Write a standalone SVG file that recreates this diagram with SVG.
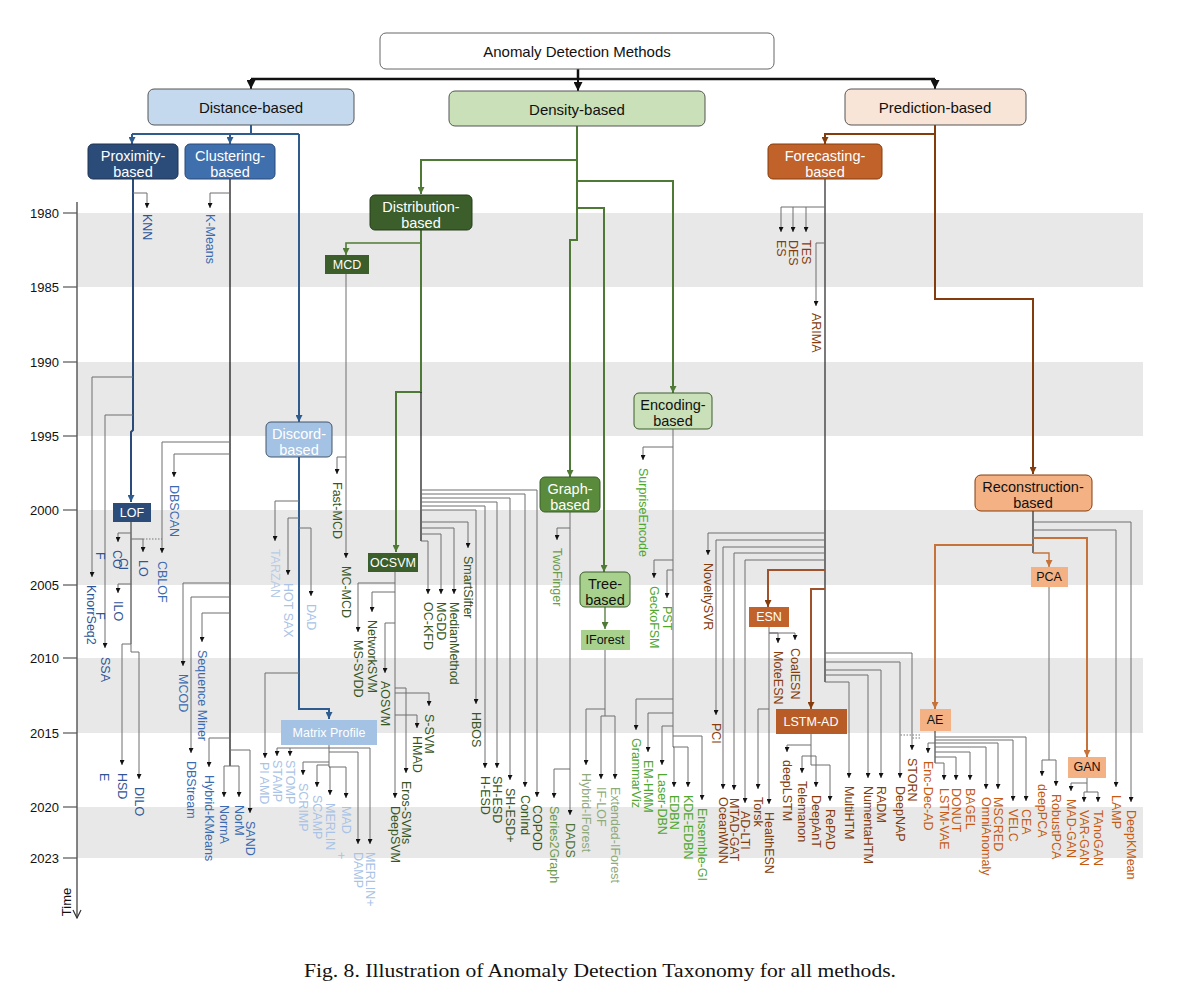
<svg xmlns="http://www.w3.org/2000/svg" width="1200" height="1002" viewBox="0 0 1200 1002">
<style>
text{font-family:"Liberation Sans",Arial,sans-serif}
text.cap{font-family:"Liberation Serif","Times New Roman",serif}
.band{fill:#e8e8e8}
.yr{font-size:13px;fill:#111;text-anchor:end;dominant-baseline:central}
.tick{stroke:#555;stroke-width:1.2}
.lb{font-size:15px;text-anchor:middle;dominant-baseline:central;fill:#111}
.lw{font-size:14.5px;text-anchor:middle;dominant-baseline:central;fill:#fff}
.lk{font-size:14.5px;text-anchor:middle;dominant-baseline:central;fill:#111}
.ls{font-size:12.5px;text-anchor:middle;dominant-baseline:central}
.m{font-size:12.5px;dominant-baseline:central}
.px{fill:#2f5597}.cl{fill:#3a6bb0}.dc{fill:#a9c3e6}.dd{fill:#375623}.gr{fill:#6b9b4a}.tr{fill:#8faa7a}.en{fill:#4ea72e}.fc{fill:#843c0c}.rc{fill:#c55a11}
.g{fill:none;stroke:#6e6e6e;stroke-width:1;marker-end:url(#ah)}
.gl{fill:none;stroke:#6e6e6e;stroke-width:1}
.dk{fill:none;stroke:#333;stroke-width:1.3}
.cb{fill:none;stroke:#2e5c8f;stroke-width:2}
.cg{fill:none;stroke:#4f7a35;stroke-width:2}
.cr{fill:none;stroke:#843c0c;stroke-width:2}
.co{fill:none;stroke:#c5733a;stroke-width:2}
.ck{fill:none;stroke:#111;stroke-width:2.5}
</style>
<defs>
<marker id="ah" viewBox="0 0 6 6" refX="6" refY="3" markerWidth="5" markerHeight="5" orient="auto" markerUnits="userSpaceOnUse"><path d="M0,0L6,3L0,6z" fill="#111"/></marker>
<marker id="ahB" viewBox="0 0 6 6" refX="6" refY="3" markerWidth="7" markerHeight="7" orient="auto" markerUnits="userSpaceOnUse"><path d="M0,0L6,3L0,6z" fill="#2e5c8f"/></marker>
<marker id="ahG" viewBox="0 0 6 6" refX="6" refY="3" markerWidth="7" markerHeight="7" orient="auto" markerUnits="userSpaceOnUse"><path d="M0,0L6,3L0,6z" fill="#4f7a35"/></marker>
<marker id="ahR" viewBox="0 0 6 6" refX="6" refY="3" markerWidth="7" markerHeight="7" orient="auto" markerUnits="userSpaceOnUse"><path d="M0,0L6,3L0,6z" fill="#843c0c"/></marker>
<marker id="ahO" viewBox="0 0 6 6" refX="6" refY="3" markerWidth="7" markerHeight="7" orient="auto" markerUnits="userSpaceOnUse"><path d="M0,0L6,3L0,6z" fill="#c5733a"/></marker>
<marker id="ahK" viewBox="0 0 6 6" refX="6" refY="3" markerWidth="9" markerHeight="9" orient="auto" markerUnits="userSpaceOnUse"><path d="M0,0L6,3L0,6z" fill="#111"/></marker>
<marker id="ahT" viewBox="0 0 10 10" refX="9" refY="5" markerWidth="10" markerHeight="10" orient="auto" markerUnits="userSpaceOnUse"><path d="M1,1L9,5L1,9" fill="none" stroke="#333" stroke-width="1.2"/></marker>
</defs>
<rect width="1200" height="1002" fill="#fff"/>

<g id="timeline">
<rect class="band" x="77" y="213" width="1066" height="74"/>
<rect class="band" x="77" y="362" width="1066" height="74"/>
<rect class="band" x="77" y="510" width="1066" height="75"/>
<rect class="band" x="77" y="658" width="1066" height="75"/>
<rect class="band" x="77" y="807" width="1066" height="51"/>
<line x1="77" y1="202" x2="77" y2="918" stroke="#444" stroke-width="1.3" marker-end="url(#ahT)"/>
<line class="tick" x1="63" y1="213" x2="77" y2="213"/><text class="yr" x="59" y="213">1980</text>
<line class="tick" x1="63" y1="287" x2="77" y2="287"/><text class="yr" x="59" y="287">1985</text>
<line class="tick" x1="63" y1="362" x2="77" y2="362"/><text class="yr" x="59" y="362">1990</text>
<line class="tick" x1="63" y1="436" x2="77" y2="436"/><text class="yr" x="59" y="436">1995</text>
<line class="tick" x1="63" y1="510" x2="77" y2="510"/><text class="yr" x="59" y="510">2000</text>
<line class="tick" x1="63" y1="585" x2="77" y2="585"/><text class="yr" x="59" y="585">2005</text>
<line class="tick" x1="63" y1="658" x2="77" y2="658"/><text class="yr" x="59" y="658">2010</text>
<line class="tick" x1="63" y1="733" x2="77" y2="733"/><text class="yr" x="59" y="733">2015</text>
<line class="tick" x1="63" y1="807" x2="77" y2="807"/><text class="yr" x="59" y="807">2020</text>
<line class="tick" x1="63" y1="858" x2="77" y2="858"/><text class="yr" x="59" y="858">2023</text>
<text x="0" y="0" transform="translate(66,902) rotate(-90)" font-size="13" text-anchor="middle" dominant-baseline="central" fill="#111">Time</text>
</g>

<g id="connectors">
<line class="ck" x1="578" y1="69" x2="578" y2="79"/>
<line class="ck" x1="251" y1="79" x2="935" y2="79"/>
<polyline class="ck" style="stroke-width:2" points="251,79 251,89" marker-end="url(#ahK)"/>
<polyline class="ck" style="stroke-width:2" points="578,79 578,91" marker-end="url(#ahK)"/>
<polyline class="ck" style="stroke-width:2" points="935,79 935,89" marker-end="url(#ahK)"/>
<polyline class="cb" points="251,125 251,134"/>
<line class="cb" x1="132" y1="134" x2="299" y2="134"/>
<polyline class="cb" points="132,134 132,144" marker-end="url(#ahB)"/>
<polyline class="cb" points="230,134 230,144" marker-end="url(#ahB)"/>
<polyline class="cb" points="299,134 299,422" marker-end="url(#ahB)"/>
<polyline class="cb" style="stroke:#2b4b78" points="133,179 133,430 131,432 131,502" marker-end="url(#ahB)"/>
<polyline class="g" points="133,193 147,193 147,208"/>
<polyline class="g" points="133,377 92,377 92,577"/>
<polyline class="g" points="133,415 105,415 105,648"/>
<line class="gl" style="stroke:#222" x1="131" y1="522" x2="131" y2="644"/>
<polyline class="g" points="131,533 118,533 118,542"/>
<polyline class="g" points="131,539 143,539 143,552"/>
<line x1="143" y1="539" x2="162" y2="539" stroke="#777" stroke-width="1" stroke-dasharray="1.5,1.5"/>
<polyline class="g" points="131,584 118,584 118,593"/>
<polyline class="g" points="131,644 122,644 122,765"/>
<polyline class="g" points="131,644 131,652 139,652 139,779"/>
<line class="dk" style="stroke:#1a1a1a" x1="230" y1="179" x2="230" y2="766"/>
<polyline class="g" points="230,193 210,193 210,208"/>
<polyline class="g" points="230,442 162,442 162,553"/>
<polyline class="g" points="230,454 174,454 174,477"/>
<polyline class="g" points="230,583 183,583 183,666"/>
<polyline class="g" points="230,597 191,597 191,753"/>
<polyline class="g" points="230,613 202,613 202,642"/>
<polyline class="g" points="230,738 209,738 209,767"/>
<polyline class="g" points="230,766 224,766 224,797"/>
<polyline class="g" points="230,766 239,766 239,797"/>
<polyline class="g" points="230,750 250,750 250,813"/>
<polyline class="cb" points="299,457 299,709 329,709 329,719" marker-end="url(#ahB)"/>
<polyline class="g" points="299,501 275,501 275,541"/>
<polyline class="g" points="299,518 288,518 288,575"/>
<polyline class="g" points="299,528 311,528 311,596"/>
<polyline class="g" points="299,673 265,673 265,758"/>
<line class="gl" x1="329" y1="745" x2="329" y2="767"/>
<line class="gl" x1="277" y1="748" x2="370" y2="748"/>
<polyline class="g" points="277,748 277,756"/>
<polyline class="g" points="290,748 290,756"/>
<polyline class="g" points="370,748 370,844"/>
<polyline class="g" points="329,752 358,752 358,844"/>
<polyline class="g" points="329,762 303,762 303,775"/>
<polyline class="g" points="329,765 317,765 317,787"/>
<polyline class="g" points="329,767 330,767 330,795"/>
<polyline class="g" points="329,767 346,767 346,798"/>
<polyline class="cg" points="577,126 577,240 570,240 570,477" marker-end="url(#ahG)"/>
<polyline class="cg" points="577,160 421,160 421,194" marker-end="url(#ahG)"/>
<polyline class="cg" points="577,181 673,181 673,393" marker-end="url(#ahG)"/>
<polyline class="cg" points="577,208 604,208 604,572" marker-end="url(#ahG)"/>
<polyline class="cg" style="stroke-width:1.6" points="421,243 346,243 346,255" marker-end="url(#ahG)"/>
<polyline class="cg" points="421,230 421,392 396,392 396,552" marker-end="url(#ahG)"/>
<line class="dk" style="stroke:#222" x1="421" y1="392" x2="421" y2="541"/>
<polyline class="g" points="346,274 346,558"/>
<polyline class="g" points="346,457 337,457 337,474"/>
<polyline class="g" points="395,572 395,798"/>
<polyline class="g" points="395,583 358,583 358,632"/>
<polyline class="g" points="395,592 372,592 372,612"/>
<polyline class="g" points="395,623 385,623 385,673"/>
<polyline class="g" points="395,688 406,688 406,773"/>
<polyline class="g" points="395,693 429,693 429,706"/>
<polyline class="g" points="395,715 417,715 417,728"/>
<polyline class="g" points="421,490 537,490 537,797"/>
<polyline class="g" points="421,494 525,494 525,787"/>
<polyline class="g" points="421,498 510,498 510,780"/>
<polyline class="g" points="421,502 497,502 497,768"/>
<polyline class="g" points="421,506 485,506 485,768"/>
<polyline class="g" points="421,510 476,510 476,704"/>
<polyline class="g" points="421,522 468,522 468,548"/>
<polyline class="g" points="421,528 454,528 454,594"/>
<polyline class="g" points="421,534 441,534 441,594"/>
<polyline class="g" points="421,541 428,541 428,594"/>
<polyline class="g" points="570,512 570,815"/>
<polyline class="g" points="570,528 557,528 557,540"/>
<polyline class="g" points="570,769 554,769 554,798"/>
<polyline class="cg" style="stroke-width:1.3" points="605,607 605,629" marker-end="url(#ahG)"/>
<line class="gl" x1="605" y1="650" x2="605" y2="716"/>
<polyline class="g" points="605,709 586,709 586,765"/>
<polyline class="g" points="605,716 601,716 601,779"/>
<polyline class="g" points="605,716 615,716 615,779"/>
<line class="gl" x1="673" y1="429" x2="673" y2="747"/>
<polyline class="g" points="673,447 643,447 643,460"/>
<polyline class="g" points="673,560 654,560 654,578"/>
<polyline class="g" points="673,570 667,570 667,598"/>
<polyline class="g" points="673,699 636,699 636,730"/>
<polyline class="g" points="673,713 648,713 648,752"/>
<polyline class="g" points="673,726 662,726 662,765"/>
<polyline class="g" points="673,736 702,736 702,800"/>
<polyline class="g" points="673,747 688,747 688,787"/>
<polyline class="g" points="673,747 674,747 674,787"/>
<polyline class="cr" points="935,125 935,299 1033,299 1033,474" marker-end="url(#ahR)"/>
<polyline class="cr" points="935,134 825,134 825,144" marker-end="url(#ahR)"/>
<line class="dk" x1="825" y1="179" x2="825" y2="682"/>
<polyline class="g" points="825,207 781,207 781,232"/>
<polyline class="g" points="793,207 793,232"/>
<polyline class="g" points="806,207 806,232"/>
<polyline class="g" points="825,243 816,243 816,306"/>
<polyline class="g" points="825,533 708,533 708,555"/>
<polyline class="g" points="825,540 716,540 716,715"/>
<polyline class="g" points="825,547 723,547 723,789"/>
<polyline class="g" points="825,553 734,553 734,790"/>
<polyline class="g" points="825,560 745,560 745,803"/>
<polyline class="cr" style="stroke:#a0522d" points="825,570 768,570 768,607" marker-end="url(#ahR)"/>
<polyline class="g" points="769,627 769,804"/>
<polyline class="g" points="769,633 778,633 778,643"/>
<polyline class="g" points="769,633 795,633 795,640"/>
<polyline class="g" points="769,709 758,709 758,789"/>
<polyline class="cr" style="stroke:#a0522d" points="825,589 811,589 811,709" marker-end="url(#ahR)"/>
<line class="gl" x1="811" y1="734" x2="811" y2="765"/>
<polyline class="g" points="811,745 787,745 787,752"/>
<polyline class="g" points="811,756 802,756 802,773"/>
<polyline class="g" points="811,756 816,756 816,787"/>
<polyline class="g" points="811,765 830,765 830,801"/>
<polyline class="g" points="825,682 849,682 849,778"/>
<polyline class="g" points="825,675 868,675 868,778"/>
<polyline class="g" points="825,670 881,670 881,778"/>
<polyline class="g" points="825,662 900,662 900,778"/>
<polyline class="g" points="825,653 912,653 912,750"/>
<line x1="920" y1="735" x2="900" y2="735" stroke="#777" stroke-dasharray="1.5,1.5"/>
<line x1="920" y1="738" x2="912" y2="738" stroke="#777" stroke-dasharray="1.5,1.5"/>
<line class="dk" x1="1033" y1="511" x2="1033" y2="553"/>
<polyline class="g" points="1033,522 1131,522 1131,802"/>
<polyline class="g" points="1033,530 1116,530 1116,787"/>
<polyline class="co" points="1033,538 1087,538 1087,757" marker-end="url(#ahO)"/>
<polyline class="co" points="1033,545 935,545 935,709" marker-end="url(#ahO)"/>
<polyline class="co" style="stroke-width:1.4" points="1033,553 1049,553 1049,567" marker-end="url(#ahO)"/>
<line class="gl" x1="1049" y1="587" x2="1049" y2="760"/>
<polyline class="g" points="1049,760 1042,760 1042,776"/>
<polyline class="g" points="1049,760 1056,760 1056,786"/>
<line class="gl" x1="1087" y1="778" x2="1087" y2="792"/>
<polyline class="g" points="1087,783 1071,783 1071,791"/>
<polyline class="g" points="1087,792 1084,792 1084,802"/>
<polyline class="g" points="1087,792 1098,792 1098,802"/>
<line class="gl" style="stroke:#222" x1="935" y1="731" x2="935" y2="763"/>
<polyline class="g" points="935,743 928,743 928,753"/>
<polyline class="g" points="935,763 944,763 944,780"/>
<polyline class="g" points="935,757 956,757 956,780"/>
<polyline class="g" points="935,752 970,752 970,780"/>
<polyline class="g" points="935,747 986,747 986,789"/>
<polyline class="g" points="935,743 998,743 998,789"/>
<polyline class="g" points="935,740 1013,740 1013,801"/>
<polyline class="g" points="935,737 1026,737 1026,801"/>
</g>

<g id="root"><rect x="380" y="33" width="394" height="36" rx="6" fill="#fff" stroke="#666"/><text class="lb" x="577" y="51">Anomaly Detection Methods</text></g>
<g id="distance-based"><rect x="148" y="89" width="206" height="36" rx="6" fill="#c5d9ee" stroke="#555"/><text class="lb" x="251" y="107">Distance-based</text></g>
<g id="density-based"><rect x="449" y="91" width="256" height="35" rx="6" fill="#c9e0b8" stroke="#555"/><text class="lb" x="577" y="109">Density-based</text></g>
<g id="prediction-based"><rect x="845" y="89" width="181" height="36" rx="6" fill="#f8e5d8" stroke="#555"/><text class="lb" x="935" y="107">Prediction-based</text></g>

<g id="proximity-based"><rect x="88" y="144" width="90" height="35" rx="5" fill="#2b4b78" stroke="#1f3350"/><text class="lw" x="133" y="156">Proximity-</text><text class="lw" x="133" y="172">based</text></g>
<g id="clustering-based"><rect x="185" y="144" width="90" height="35" rx="5" fill="#3f6fad" stroke="#2b4b78"/><text class="lw" x="230" y="156">Clustering-</text><text class="lw" x="230" y="172">based</text></g>
<g id="discord-based"><rect x="266" y="422" width="66" height="35" rx="5" fill="#a4c2e4" stroke="#44546a"/><text class="lw" x="299" y="434">Discord-</text><text class="lw" x="299" y="450">based</text></g>
<g id="lof"><rect x="113" y="503" width="38" height="19" fill="#2b4b78"/><text class="ls" x="132" y="513" fill="#fff">LOF</text></g>
<g id="matrix-profile"><rect x="281" y="720" width="96" height="25" fill="#a4c2e4"/><text class="ls" x="329" y="733" fill="#fff" font-size="13.5">Matrix Profile</text></g>

<g id="distribution-based"><rect x="370" y="195" width="102" height="35" rx="5" fill="#3b5e2b" stroke="#263d1b"/><text class="lw" x="421" y="207">Distribution-</text><text class="lw" x="421" y="223">based</text></g>
<g id="mcd"><rect x="325" y="255" width="44" height="19" fill="#3b5e2b"/><text class="ls" x="347" y="265" fill="#fff">MCD</text></g>
<g id="ocsvm"><rect x="368" y="553" width="50" height="19" fill="#3b5e2b"/><text class="ls" x="393" y="563" fill="#fff">OCSVM</text></g>
<g id="graph-based"><rect x="540" y="477" width="60" height="35" rx="5" fill="#5a8a3c" stroke="#3b5e2b"/><text class="lw" x="570" y="489">Graph-</text><text class="lw" x="570" y="505">based</text></g>
<g id="tree-based"><rect x="580" y="572" width="50" height="35" rx="5" fill="#a9d18e" stroke="#3b5e2b"/><text class="lk" x="605" y="584">Tree-</text><text class="lk" x="605" y="600">based</text></g>
<g id="iforest"><rect x="581" y="630" width="49" height="20" fill="#a9d18e"/><text class="ls" x="605" y="640" fill="#111">IForest</text></g>
<g id="encoding-based"><rect x="634" y="393" width="78" height="36" rx="5" fill="#c9e0b8" stroke="#3b5e2b"/><text class="lk" x="673" y="405">Encoding-</text><text class="lk" x="673" y="421">based</text></g>

<g id="forecasting-based"><rect x="768" y="144" width="114" height="35" rx="5" fill="#c0622a" stroke="#843c0c"/><text class="lw" x="825" y="156">Forecasting-</text><text class="lw" x="825" y="172">based</text></g>
<g id="esn"><rect x="749" y="607" width="40" height="20" fill="#c0622a"/><text class="ls" x="769" y="617" fill="#fff">ESN</text></g>
<g id="lstm-ad"><rect x="776" y="709" width="71" height="25" fill="#b85c27"/><text class="ls" x="811" y="722" fill="#fff" font-size="13.5">LSTM-AD</text></g>
<g id="reconstruction-based"><rect x="975" y="475" width="117" height="36" rx="6" fill="#f4b183" stroke="#843c0c"/><text class="lk" x="1033" y="487">Reconstruction-</text><text class="lk" x="1033" y="503">based</text></g>
<g id="pca"><rect x="1031" y="567" width="37" height="20" fill="#f4b183"/><text class="ls" x="1049" y="577" fill="#111">PCA</text></g>
<g id="ae"><rect x="920" y="709" width="31" height="22" fill="#f4b183"/><text class="ls" x="935" y="720" fill="#111" font-size="13.5">AE</text></g>
<g id="gan"><rect x="1068" y="757" width="38" height="21" fill="#f4b183"/><text class="ls" x="1087" y="767" fill="#111">GAN</text></g>

<g id="methods">
<g id="knn"><text class="m px" transform="translate(147,214) rotate(90)">KNN</text></g>
<g id="knorrseq2"><text class="m px" transform="translate(91,585) rotate(90)">KnorrSeq2</text><text class="m px" transform="translate(100,552) rotate(90)">F</text><text class="m px" transform="translate(100,612) rotate(90)">F</text></g>
<g id="ssa"><text class="m px" transform="translate(105,657) rotate(90)">SSA</text></g>
<g id="co"><text class="m px" transform="translate(117,550) rotate(90)">CO</text><text class="m px" transform="translate(123,558) rotate(90)">Cl</text></g>
<g id="lo"><text class="m px" transform="translate(143,560) rotate(90)">LO</text></g>
<g id="ilo"><text class="m px" transform="translate(118,601) rotate(90)">ILO</text></g>
<g id="hsd"><text class="m px" transform="translate(122,773) rotate(90)">HSD</text><text class="m px" transform="translate(104,773) rotate(90)">E</text></g>
<g id="dilo"><text class="m px" transform="translate(139,787) rotate(90)">DILO</text></g>
<g id="k-means"><text class="m cl" transform="translate(210,214) rotate(90)">K-Means</text></g>
<g id="cblof"><text class="m cl" transform="translate(162,561) rotate(90)">CBLOF</text></g>
<g id="dbscan"><text class="m cl" transform="translate(174,485) rotate(90)">DBSCAN</text></g>
<g id="mcod"><text class="m cl" transform="translate(183,674) rotate(90)">MCOD</text></g>
<g id="dbstream"><text class="m cl" transform="translate(191,761) rotate(90)">DBStream</text></g>
<g id="sequence-miner"><text class="m cl" transform="translate(202,650) rotate(90)">Sequence Miner</text></g>
<g id="hybrid-kmeans"><text class="m cl" transform="translate(209,775) rotate(90)">Hybrid-KMeans</text></g>
<g id="norma"><text class="m cl" transform="translate(224,805) rotate(90)">NormA</text></g>
<g id="norm"><text class="m cl" transform="translate(239,805) rotate(90)">NorM</text></g>
<g id="sand"><text class="m cl" transform="translate(250,821) rotate(90)">SAND</text></g>
<g id="tarzan"><text class="m dc" style="fill:#b8cce6" transform="translate(275,549) rotate(90)">TARZAN</text></g>
<g id="hot-sax"><text class="m dc" transform="translate(288,583) rotate(90)">HOT SAX</text></g>
<g id="dad"><text class="m dc" transform="translate(311,604) rotate(90)">DAD</text></g>
<g id="pamd"><text class="m dc" transform="translate(264,762) rotate(90)">PI AMD</text></g>
<g id="stamp"><text class="m dc" transform="translate(277,760) rotate(90)">STAMP</text></g>
<g id="stomp"><text class="m dc" transform="translate(290,760) rotate(90)">STOMP</text></g>
<g id="scrimp"><text class="m dc" transform="translate(303,783) rotate(90)">SCRIMP</text></g>
<g id="scamp"><text class="m dc" transform="translate(317,795) rotate(90)">SCAMP</text></g>
<g id="merlin"><text class="m dc" transform="translate(330,803) rotate(90)">MERLIN</text><text class="m dc" transform="translate(341,852) rotate(90)">+</text></g>
<g id="mad"><text class="m dc" transform="translate(346,806) rotate(90)">MAD</text></g>
<g id="damp"><text class="m dc" transform="translate(358,852) rotate(90)">DAMP</text></g>
<g id="merlin-plus"><text class="m dc" transform="translate(370,852) rotate(90)">MERLIN+</text></g>

<g id="fast-mcd"><text class="m dd" transform="translate(337,482) rotate(90)">Fast-MCD</text></g>
<g id="mc-mcd"><text class="m dd" transform="translate(346,566) rotate(90)">MC-MCD</text></g>
<g id="ms-svdd"><text class="m dd" transform="translate(358,640) rotate(90)">MS-SVDD</text></g>
<g id="networksvm"><text class="m dd" transform="translate(372,620) rotate(90)">NetworkSVM</text></g>
<g id="aosvm"><text class="m dd" transform="translate(385,681) rotate(90)">AOSVM</text></g>
<g id="deepsvm"><text class="m dd" transform="translate(395,806) rotate(90)">DeepSVM</text></g>
<g id="eros-svms"><text class="m dd" transform="translate(406,781) rotate(90)">Eros-SVMs</text></g>
<g id="hmad"><text class="m dd" transform="translate(417,736) rotate(90)">HMAD</text></g>
<g id="s-svm"><text class="m dd" transform="translate(429,714) rotate(90)">S-SVM</text></g>
<g id="oc-kfd"><text class="m dd" transform="translate(428,602) rotate(90)">OC-KFD</text></g>
<g id="mgdd"><text class="m dd" transform="translate(441,602) rotate(90)">MGDD</text></g>
<g id="medianmethod"><text class="m dd" transform="translate(454,602) rotate(90)">MedianMethod</text></g>
<g id="smartsifter"><text class="m dd" transform="translate(468,556) rotate(90)">SmartSifter</text></g>
<g id="hbos"><text class="m dd" transform="translate(476,712) rotate(90)">HBOS</text></g>
<g id="h-esd"><text class="m dd" transform="translate(485,776) rotate(90)">H-ESD</text></g>
<g id="sh-esd"><text class="m dd" transform="translate(497,776) rotate(90)">SH-ESD</text></g>
<g id="sh-esd-plus"><text class="m dd" transform="translate(510,788) rotate(90)">SH-ESD+</text></g>
<g id="conind"><text class="m dd" transform="translate(525,795) rotate(90)">ConInd</text></g>
<g id="copod"><text class="m dd" transform="translate(537,805) rotate(90)">COPOD</text></g>
<g id="twofinger"><text class="m gr" transform="translate(557,548) rotate(90)">TwoFinger</text></g>
<g id="series2graph"><text class="m gr" transform="translate(554,806) rotate(90)">Series2Graph</text></g>
<g id="dads"><text class="m gr" style="fill:#4d7335" transform="translate(570,823) rotate(90)">DADS</text></g>
<g id="hybrid-iforest"><text class="m tr" transform="translate(586,773) rotate(90)">Hybrid-IForest</text></g>
<g id="if-lof"><text class="m tr" transform="translate(601,787) rotate(90)">IF-LOF</text></g>
<g id="extended-iforest"><text class="m tr" transform="translate(615,787) rotate(90)">Extended-IForest</text></g>
<g id="surpriseencode"><text class="m en" transform="translate(643,468) rotate(90)">SurpriseEncode</text></g>
<g id="geckofsm"><text class="m en" transform="translate(654,586) rotate(90)">GeckoFSM</text></g>
<g id="pst"><text class="m en" transform="translate(667,606) rotate(90)">PST</text></g>
<g id="grammarviz"><text class="m en" transform="translate(636,738) rotate(90)">GrammarViz</text></g>
<g id="em-hmm"><text class="m en" transform="translate(648,760) rotate(90)">EM-HMM</text></g>
<g id="laser-dbn"><text class="m en" transform="translate(662,773) rotate(90)">Laser-DBN</text></g>
<g id="edbn"><text class="m en" transform="translate(674,795) rotate(90)">EDBN</text></g>
<g id="kde-edbn"><text class="m en" transform="translate(688,795) rotate(90)">KDE-EDBN</text></g>
<g id="ensemble-gi"><text class="m en" transform="translate(702,808) rotate(90)">Ensemble-GI</text></g>

<g id="es"><text class="m fc" transform="translate(781,240) rotate(90)">ES</text></g>
<g id="des"><text class="m fc" transform="translate(793,240) rotate(90)">DES</text></g>
<g id="tes"><text class="m fc" transform="translate(806,240) rotate(90)">TES</text></g>
<g id="arima"><text class="m fc" transform="translate(816,313) rotate(90)">ARIMA</text></g>
<g id="noveltysvr"><text class="m fc" transform="translate(708,563) rotate(90)">NoveltySVR</text></g>
<g id="pci"><text class="m fc" transform="translate(716,723) rotate(90)">PCI</text></g>
<g id="oceanwnn"><text class="m fc" transform="translate(723,797) rotate(90)">OceanWNN</text></g>
<g id="mtad-gat"><text class="m fc" transform="translate(734,798) rotate(90)">MTAD-GAT</text></g>
<g id="ad-lti"><text class="m fc" transform="translate(745,811) rotate(90)">AD-LTI</text></g>
<g id="torsk"><text class="m fc" transform="translate(758,797) rotate(90)">Torsk</text></g>
<g id="healthesn"><text class="m fc" transform="translate(769,812) rotate(90)">HealthESN</text></g>
<g id="moteesn"><text class="m fc" transform="translate(778,651) rotate(90)">MoteESN</text></g>
<g id="coalesn"><text class="m fc" transform="translate(795,648) rotate(90)">CoalESN</text></g>
<g id="deeplstm"><text class="m fc" transform="translate(787,760) rotate(90)">deepLSTM</text></g>
<g id="telemanon"><text class="m fc" transform="translate(802,781) rotate(90)">Telemanon</text></g>
<g id="deepant"><text class="m fc" transform="translate(816,795) rotate(90)">DeepAnT</text></g>
<g id="repad"><text class="m fc" transform="translate(830,809) rotate(90)">RePAD</text></g>
<g id="multihtm"><text class="m fc" transform="translate(849,786) rotate(90)">MultiHTM</text></g>
<g id="numentahtm"><text class="m fc" transform="translate(868,786) rotate(90)">NumentaHTM</text></g>
<g id="radm"><text class="m fc" transform="translate(881,786) rotate(90)">RADM</text></g>
<g id="deepnap"><text class="m fc" transform="translate(900,786) rotate(90)">DeepNAP</text></g>
<g id="storn"><text class="m fc" transform="translate(912,758) rotate(90)">STORN</text></g>
<g id="enc-dec-ad"><text class="m rc" transform="translate(928,761) rotate(90)">Enc-Dec-AD</text></g>
<g id="lstm-vae"><text class="m rc" transform="translate(944,788) rotate(90)">LSTM-VAE</text></g>
<g id="donut"><text class="m rc" transform="translate(956,788) rotate(90)">DONUT</text></g>
<g id="bagel"><text class="m rc" transform="translate(970,788) rotate(90)">BAGEL</text></g>
<g id="omnianomaly"><text class="m rc" transform="translate(986,797) rotate(90)">OmniAnomaly</text></g>
<g id="mscred"><text class="m rc" transform="translate(998,797) rotate(90)">MSCRED</text></g>
<g id="velc"><text class="m rc" transform="translate(1013,809) rotate(90)">VELC</text></g>
<g id="cea"><text class="m rc" transform="translate(1026,809) rotate(90)">CEA</text></g>
<g id="deeppca"><text class="m rc" transform="translate(1042,784) rotate(90)">deepPCA</text></g>
<g id="robustpca"><text class="m rc" transform="translate(1056,794) rotate(90)">RobustPCA</text></g>
<g id="mad-gan"><text class="m rc" transform="translate(1071,799) rotate(90)">MAD-GAN</text></g>
<g id="var-gan"><text class="m rc" transform="translate(1084,810) rotate(90)">VAR-GAN</text></g>
<g id="tanogan"><text class="m rc" transform="translate(1098,810) rotate(90)">TAnoGAN</text></g>
<g id="lamp"><text class="m rc" transform="translate(1116,795) rotate(90)">LAMP</text></g>
<g id="deepkmean"><text class="m rc" transform="translate(1131,810) rotate(90)">DeepKMean</text></g>
</g>

<text class="cap" x="600" y="977" font-size="19" text-anchor="middle" fill="#111" textLength="592" lengthAdjust="spacingAndGlyphs">Fig. 8.  Illustration of Anomaly Detection Taxonomy for all methods.</text>
</svg>
